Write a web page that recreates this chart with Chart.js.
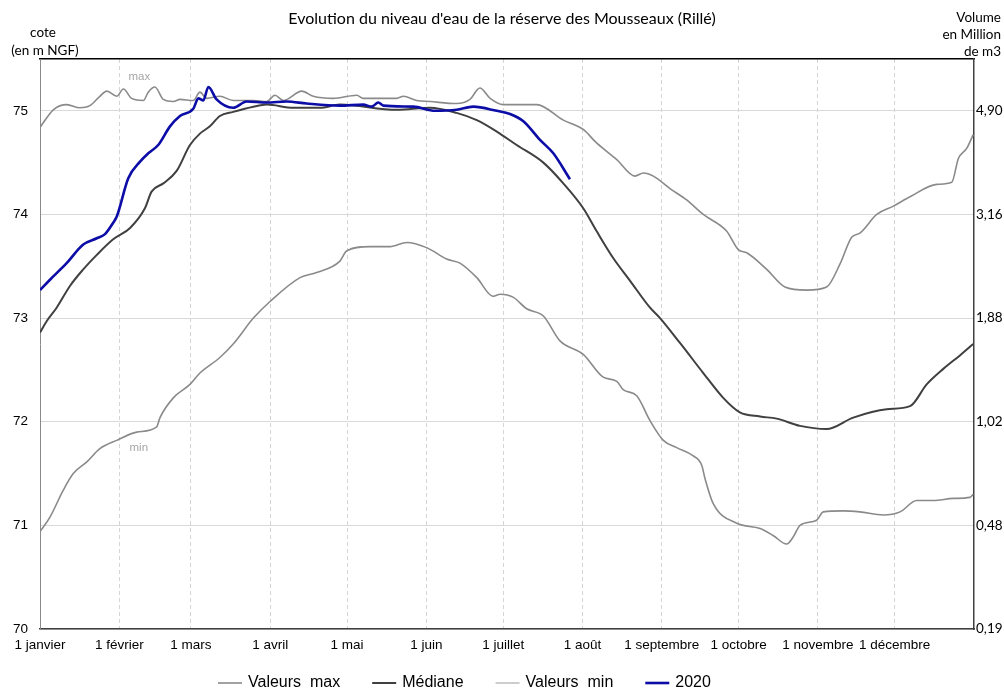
<!DOCTYPE html>
<html lang="fr">
<head>
<meta charset="utf-8">
<title>Evolution du niveau d'eau de la réserve des Mousseaux (Rillé)</title>
<script src="https://cdn.jsdelivr.net/npm/chart.js@4.4.1/dist/chart.umd.min.js"></script>
<style>
  html, body { margin: 0; padding: 0; background: #fff; }
</style>
</head>
<body>
<canvas id="niveau-chart" width="1004" height="691"></canvas>
<script>
// Axe des x : jours de l'année (0 = 1 janvier)
const monthDays = [0, 31, 59, 90, 120, 151, 181, 212, 243, 273, 304, 334];
const monthLabels = ['1 janvier', '1 février', '1 mars', '1 avril', '1 mai', '1 juin',
  '1 juillet', '1 août', '1 septembre', '1 octobre', '1 novembre', '1 décembre'];

// Axe de gauche (cote) et correspondance en volume a droite
const coteTicks = [70, 71, 72, 73, 74, 75];
const volumeLabels = ['0,19', '0,48', '1,02', '1,88', '3,16', '4,90'];

// Valeurs max [jour, cote]
const valeursMax = [
  [0, 74.84], [5.2, 75.01], [10.4, 75.06], [15.6, 75.03], [19.5, 75.05], [23.4, 75.14],
  [26.1, 75.19], [30.0, 75.14], [32.6, 75.21], [35.8, 75.12], [40.4, 75.10], [42.3, 75.18],
  [44.9, 75.23], [48.2, 75.11], [52.1, 75.09], [54.7, 75.11], [59.9, 75.10], [62.5, 75.18],
  [65.1, 75.12], [70.3, 75.14], [75.5, 75.10], [83.4, 75.10], [88.6, 75.09], [91.8, 75.15],
  [95.1, 75.10], [102.3, 75.19], [106.8, 75.14], [114.6, 75.12], [123.8, 75.15], [126.3, 75.12],
  [139.4, 75.12], [142.0, 75.14], [147.2, 75.10], [152.4, 75.09], [162.8, 75.07], [168.0, 75.11],
  [171.9, 75.22], [175.9, 75.12], [181.0, 75.06], [194.1, 75.06], [204.5, 74.91], [212.3, 74.82],
  [217.5, 74.69], [225.4, 74.53], [232.5, 74.37], [235.8, 74.40], [239.7, 74.37], [246.2, 74.25],
  [252.7, 74.14], [259.2, 74.00], [268.3, 73.84], [272.9, 73.66], [276.2, 73.63], [284.0, 73.47],
  [291.1, 73.30], [299.6, 73.27], [307.4, 73.30], [312.6, 73.52], [317.2, 73.78], [320.4, 73.82],
  [327.0, 74.00], [333.5, 74.08], [340.0, 74.17], [350.4, 74.29], [356.3, 74.31], [358.9, 74.54],
  [362.2, 74.64], [364.7, 74.77]
];

// Mediane [jour, cote]
const mediane = [
  [0, 72.86], [2.6, 72.97], [6.5, 73.10], [11.7, 73.31], [16.9, 73.47], [22.2, 73.61],
  [28.6, 73.76], [35.2, 73.87], [41.0, 74.06], [43.6, 74.22], [48.2, 74.30], [53.4, 74.42],
  [58.6, 74.67], [62.5, 74.78], [66.4, 74.85], [70.3, 74.95], [75.5, 74.99], [83.4, 75.04],
  [88.6, 75.06], [99.0, 75.03], [109.4, 75.03], [117.2, 75.06], [139.4, 75.01], [152.4, 75.03],
  [162.8, 74.98], [170.7, 74.91], [178.5, 74.80], [186.3, 74.67], [196.7, 74.50], [204.5, 74.30],
  [212.3, 74.06], [217.5, 73.84], [224.0, 73.58], [230.6, 73.36], [238.4, 73.10], [242.3, 73.00],
  [250.1, 72.76], [259.2, 72.47], [267.0, 72.23], [273.5, 72.09], [281.4, 72.05], [287.9, 72.03],
  [297.0, 71.96], [307.4, 71.93], [317.8, 72.04], [330.9, 72.12], [340.0, 72.15], [346.5, 72.36],
  [353.0, 72.51], [359.5, 72.64], [364.7, 72.75]
];

// Valeurs min [jour, cote]
const valeursMin = [
  [0, 70.94], [3.9, 71.08], [9.1, 71.34], [13.0, 71.50], [18.2, 71.61], [23.4, 71.74],
  [30.0, 71.82], [37.8, 71.90], [45.6, 71.95], [46.9, 72.04], [52.1, 72.23], [58.6, 72.36],
  [62.5, 72.47], [70.3, 72.62], [75.5, 72.75], [83.4, 73.00], [89.9, 73.16], [101.6, 73.39],
  [108.1, 73.44], [117.2, 73.55], [119.9, 73.65], [129.0, 73.69], [136.8, 73.69], [143.3, 73.73],
  [151.1, 73.68], [158.9, 73.57], [164.1, 73.53], [170.7, 73.39], [177.1, 73.21], [179.8, 73.23],
  [185.0, 73.20], [190.2, 73.09], [196.7, 73.02], [203.2, 72.78], [212.3, 72.65], [220.1, 72.43],
  [225.4, 72.39], [227.9, 72.31], [233.2, 72.25], [238.4, 72.01], [243.6, 71.82], [248.8, 71.75],
  [255.3, 71.67], [258.6, 71.58], [259.9, 71.45], [263.1, 71.21], [272.3, 71.02], [281.4, 70.97],
  [286.6, 70.90], [291.8, 70.82], [294.4, 70.89], [297.0, 71.00], [303.5, 71.05], [306.1, 71.13],
  [313.9, 71.14], [320.4, 71.13], [329.5, 71.10], [336.1, 71.13], [342.6, 71.24], [349.1, 71.24],
  [356.9, 71.26], [363.4, 71.27], [364.7, 71.30]
];

// Annee 2020 [jour, cote]
const annee2020 = [
  [0, 73.27], [3.9, 73.37], [10.4, 73.53], [16.9, 73.71], [22.2, 73.77], [25.4, 73.81],
  [28.6, 73.92], [30.0, 73.98], [34.5, 74.35], [39.1, 74.51], [42.3, 74.59], [46.2, 74.67],
  [50.8, 74.85], [54.7, 74.95], [59.9, 75.02], [61.9, 75.12], [63.8, 75.10], [65.8, 75.23],
  [69.0, 75.11], [75.5, 75.03], [80.8, 75.09], [88.6, 75.08], [96.4, 75.09], [104.2, 75.07],
  [117.2, 75.05], [126.3, 75.06], [129.6, 75.04], [132.2, 75.08], [134.2, 75.05], [145.9, 75.04],
  [154.4, 75.00], [162.8, 75.01], [169.3, 75.04], [178.5, 75.00], [183.7, 74.97], [188.9, 74.90],
  [195.4, 74.72], [200.6, 74.59], [207.1, 74.34]
];

const sansFont = 'Liberation Sans, Arial, sans-serif';
const titleFont = 'Lato, Open Sans, sans-serif';

// En-tetes des axes et etiquettes max / min
const headersPlugin = {
  id: 'headers',
  afterDraw(chart) {
    const ctx = chart.ctx;
    const x = chart.scales.x;
    const y = chart.scales.y;
    ctx.save();
    ctx.fillStyle = '#000';
    ctx.textBaseline = 'middle';
    ctx.font = '13.5px ' + titleFont;
    ctx.textAlign = 'center';
    ctx.fillText('cote', 43, 33);
    ctx.fillText('(en m NGF)', 45, 51);
    ctx.textAlign = 'right';
    ctx.fillText('Volume', 1001, 18);
    ctx.fillText('en Million', 1001, 35);
    ctx.fillText('de m3', 1001, 52);

    ctx.fillStyle = '#a6a6a6';
    ctx.textAlign = 'center';
    ctx.font = '11.5px ' + sansFont;
    ctx.fillText('max', x.getPixelForValue(38.8), y.getPixelForValue(75.33));
    ctx.fillText('min', x.getPixelForValue(38.6), y.getPixelForValue(71.75));
    ctx.restore();
  }
};

// Legende en bas, traits + libelles
const lineLegendPlugin = {
  id: 'lineLegend',
  afterDraw(chart, args, opts) {
    const ctx = chart.ctx;
    let cursor = opts.startX;
    ctx.save();
    ctx.font = '16px ' + sansFont;
    ctx.textBaseline = 'middle';
    ctx.textAlign = 'left';
    chart.data.datasets.forEach(ds => {
      ctx.strokeStyle = ds.legendColor || ds.borderColor;
      ctx.lineWidth = ds.borderWidth;
      ctx.beginPath();
      ctx.moveTo(cursor, opts.y);
      ctx.lineTo(cursor + opts.lineLength, opts.y);
      ctx.stroke();
      const textX = cursor + opts.lineLength + opts.gap;
      ctx.fillStyle = '#000';
      ctx.fillText(ds.label, textX, opts.y);
      cursor = textX + ctx.measureText(ds.label).width + opts.spacing;
    });
    ctx.restore();
  }
};

function makeSeries(label, points, color, width, order, legendColor) {
  return {
    label: label,
    data: points.map(p => ({ x: p[0], y: p[1] })),
    borderColor: color,
    legendColor: legendColor,
    borderWidth: width,
    pointRadius: 0,
    tension: 0.3,
    cubicInterpolationMode: 'monotone',
    fill: false,
    order: order
  };
}

document.addEventListener('DOMContentLoaded', function() {
  const ctx = document.getElementById('niveau-chart');

  new Chart(ctx, {
    type: 'line',
    data: {
      datasets: [
        makeSeries('Valeurs  max', valeursMax, '#8a8a8a', 1.6, 2),
        makeSeries('Médiane', mediane, '#404040', 2, 1),
        makeSeries('Valeurs  min', valeursMin, '#8a8a8a', 1.6, 2, '#c0c0c0'),
        makeSeries('2020', annee2020, '#0c0ca6', 2.6, 0)
      ]
    },
    options: {
      responsive: false,
      animation: false,
      events: [],
      layout: { padding: 0 },
      plugins: {
        legend: { display: false },
        tooltip: { enabled: false },
        title: {
          display: true,
          text: "Evolution du niveau d'eau de la réserve des Mousseaux (Rillé)",
          color: '#000',
          font: { family: titleFont, size: 16, weight: 'normal' },
          padding: { top: 9, bottom: 30.8 }
        },
        lineLegend: { startX: 218, y: 683, lineLength: 24, gap: 6, spacing: 32 }
      },
      scales: {
        x: {
          type: 'linear',
          position: 'bottom',
          min: 0,
          max: 365,
          afterBuildTicks: s => { s.ticks = monthDays.map(v => ({ value: v })); },
          afterFit: s => { s.height = 62; },
          ticks: {
            callback: (v, i) => monthLabels[i],
            autoSkip: false,
            maxRotation: 0,
            padding: 8,
            color: '#000',
            font: { family: sansFont, size: 13.5 }
          },
          grid: { color: '#d4d4d4', drawTicks: false },
          border: { color: '#404040', width: 1.5, dash: [4, 3] }
        },
        xTop: {
          type: 'linear',
          position: 'top',
          min: 0,
          max: 365,
          afterFit: s => { s.height = 0; },
          ticks: { display: false },
          grid: { display: false, drawTicks: false },
          border: { display: true, color: '#000', width: 1.5 }
        },
        y: {
          type: 'linear',
          position: 'left',
          min: 70,
          max: 75.5,
          afterBuildTicks: s => { s.ticks = coteTicks.map(v => ({ value: v })); },
          afterFit: s => { s.width = 40; },
          ticks: {
            padding: 12,
            color: '#000',
            font: { family: sansFont, size: 13.5 }
          },
          grid: { color: '#d9d9d9', drawTicks: false },
          border: { color: '#8a8a8a', width: 1 }
        },
        y2: {
          type: 'linear',
          position: 'right',
          min: 70,
          max: 75.5,
          afterBuildTicks: s => { s.ticks = coteTicks.map(v => ({ value: v })); },
          afterFit: s => { s.width = 30; },
          ticks: {
            callback: (v, i) => volumeLabels[i],
            padding: 2,
            color: '#000',
            font: { family: titleFont, size: 13.5 }
          },
          grid: { display: false, drawTicks: false },
          border: { color: '#404040', width: 1.5 }
        }
      }
    },
    plugins: [headersPlugin, lineLegendPlugin]
  });
});
</script>
</body>
</html>
